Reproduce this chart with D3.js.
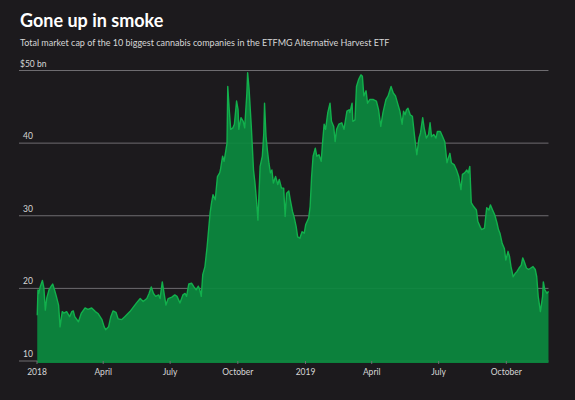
<!DOCTYPE html>
<html>
<head>
<meta charset="utf-8">
<script src="https://cdn.jsdelivr.net/npm/d3@7"></script>
<style>
  html, body { margin: 0; padding: 0; background: #1c1a1d; }
  svg { display: block; }
</style>
</head>
<body>
<div id="vis"></div>
<script>
// market cap, $bn
const dates = [
  "2018-01-02","2018-01-03","2018-01-04","2018-01-06","2018-01-09","2018-01-11","2018-01-13","2018-01-15",
  "2018-01-18","2018-01-21","2018-01-23","2018-01-26","2018-01-28","2018-01-31","2018-02-02","2018-02-05",
  "2018-02-07","2018-02-11","2018-02-15","2018-02-18","2018-02-20","2018-02-22","2018-02-27","2018-03-03",
  "2018-03-08","2018-03-12","2018-03-17","2018-03-22","2018-03-26","2018-03-31","2018-04-03","2018-04-05",
  "2018-04-09","2018-04-12","2018-04-15","2018-04-19","2018-04-22","2018-04-27","2018-05-01","2018-05-08",
  "2018-05-17","2018-05-22","2018-05-26","2018-05-31","2018-06-03","2018-06-06","2018-06-09","2018-06-12",
  "2018-06-16","2018-06-18","2018-06-21","2018-06-23","2018-06-26","2018-06-29","2018-07-04","2018-07-08",
  "2018-07-11","2018-07-15","2018-07-19","2018-07-22","2018-07-24","2018-07-27","2018-07-31","2018-08-03",
  "2018-08-06","2018-08-09","2018-08-11","2018-08-13","2018-08-15","2018-08-18","2018-08-21","2018-08-25",
  "2018-08-27","2018-08-29","2018-09-01","2018-09-04","2018-09-07","2018-09-08","2018-09-11","2018-09-13",
  "2018-09-17","2018-09-18","2018-09-20","2018-09-22","2018-09-25","2018-09-27","2018-09-30","2018-10-02",
  "2018-10-03","2018-10-06","2018-10-09","2018-10-11","2018-10-14","2018-10-15","2018-10-17","2018-10-20",
  "2018-10-23","2018-10-25","2018-10-27","2018-10-29","2018-11-01","2018-11-04","2018-11-06","2018-11-07",
  "2018-11-09","2018-11-11","2018-11-13","2018-11-15","2018-11-17","2018-11-19","2018-11-22","2018-11-25",
  "2018-11-27","2018-11-30","2018-12-03","2018-12-05","2018-12-07","2018-12-10","2018-12-12","2018-12-15",
  "2018-12-17","2018-12-20","2018-12-22","2018-12-25","2018-12-28","2018-12-31",
  "2019-01-02","2019-01-06","2019-01-08","2019-01-10","2019-01-12","2019-01-15","2019-01-17","2019-01-20",
  "2019-01-23","2019-01-25","2019-01-27","2019-01-29","2019-02-01","2019-02-04","2019-02-06","2019-02-09",
  "2019-02-11","2019-02-13","2019-02-16","2019-02-20","2019-02-23","2019-02-27","2019-03-02","2019-03-03",
  "2019-03-06","2019-03-07","2019-03-10","2019-03-12","2019-03-15","2019-03-18","2019-03-20","2019-03-22",
  "2019-03-25","2019-03-27","2019-03-30","2019-04-04","2019-04-08","2019-04-11","2019-04-14","2019-04-17",
  "2019-04-21","2019-04-24","2019-04-28","2019-05-01","2019-05-04","2019-05-08","2019-05-10","2019-05-13",
  "2019-05-15","2019-05-17","2019-05-19","2019-05-21","2019-05-24","2019-05-27","2019-05-30","2019-06-02",
  "2019-06-05","2019-06-07","2019-06-10","2019-06-12","2019-06-15","2019-06-18","2019-06-20","2019-06-22",
  "2019-06-25","2019-06-28","2019-06-30","2019-07-04","2019-07-07","2019-07-10","2019-07-13","2019-07-15",
  "2019-07-17","2019-07-19","2019-07-23","2019-07-26","2019-07-29","2019-08-01","2019-08-03","2019-08-06",
  "2019-08-09","2019-08-11","2019-08-13","2019-08-15","2019-08-18","2019-08-22","2019-08-24","2019-08-27",
  "2019-08-29","2019-09-02","2019-09-05","2019-09-08","2019-09-10","2019-09-13","2019-09-16","2019-09-19",
  "2019-09-21","2019-09-23","2019-09-26","2019-09-29","2019-10-01","2019-10-04","2019-10-06","2019-10-08",
  "2019-10-11","2019-10-14","2019-10-16","2019-10-19","2019-10-22","2019-10-24","2019-10-26","2019-10-29",
  "2019-11-01","2019-11-04","2019-11-07","2019-11-10","2019-11-12","2019-11-14","2019-11-17","2019-11-20",
  "2019-11-21","2019-11-23","2019-11-26","2019-11-28"
]

const marketCap = [
  16.3,19.8,19.3,20.2,21.1,20.1,17.0,18.7,
  19.8,20.3,20.6,19.6,18.9,17.7,14.7,16.8,
  16.6,16.8,16.1,16.8,16.9,16.1,15.4,16.6,
  17.3,17.1,17.3,16.8,16.5,15.7,14.7,14.3,
  14.7,16.1,16.9,16.7,15.8,15.7,16.1,16.8,
  18.0,18.6,18.2,18.6,19.3,20.2,19.3,18.9,
  19.1,18.6,20.9,19.6,17.7,18.6,18.8,19.1,
  18.9,18.0,19.1,19.3,18.9,20.6,20.7,20.2,
  19.8,20.3,19.8,18.9,21.9,23.0,25.8,30.4,
  31.8,32.9,32.2,35.4,35.9,36.3,38.2,37.5,
  40.0,47.8,44.6,41.9,42.1,42.6,45.8,44.6,
  41.9,43.5,43.0,42.1,46.9,49.7,47.4,42.3,
  36.3,34.5,32.2,29.4,36.8,38.2,41.4,45.5,
  40.9,38.9,37.2,35.9,36.3,34.5,35.4,34.3,
  35.0,33.8,33.8,29.9,33.1,33.4,32.2,30.6,
  29.9,28.5,27.1,26.9,27.8,27.6,
  28.8,29.7,31.3,35.4,38.2,39.3,38.2,38.4,
  37.5,40.2,42.6,41.9,44.2,45.5,43.0,42.3,
  40.2,41.9,42.6,42.8,41.9,44.4,44.6,44.2,
  45.5,43.0,43.2,47.8,48.8,49.4,49.2,46.5,
  47.2,45.5,46.0,46.0,45.8,44.6,42.3,44.2,
  46.0,46.5,47.8,46.9,46.5,45.1,44.4,42.6,
  44.4,43.9,44.6,44.8,43.9,43.7,40.9,38.4,
  40.7,41.4,43.5,42.1,40.7,41.2,42.8,40.9,
  41.2,40.7,41.6,41.6,40.9,40.2,37.3,38.0,
  38.6,37.3,37.0,36.3,35.4,33.6,35.7,35.9,
  36.3,35.9,36.8,31.8,31.3,30.8,29.2,28.5,
  28.1,28.3,31.1,30.8,31.5,30.8,30.1,29.0,
  28.1,27.6,26.2,25.5,23.9,25.1,24.4,23.0,
  21.6,22.1,22.3,22.8,23.2,24.2,23.7,22.8,
  22.6,22.8,23.0,22.6,21.6,18.9,16.8,18.9,
  20.9,19.8,19.3,19.6
]

const yTicks = [10, 20, 30, 40, 50]
const xTickDates = ["2018-01-01","2018-04-01","2018-07-01","2018-10-01","2019-01-01","2019-04-01","2019-07-01","2019-10-01"]
const xTickLabels = ["2018","April","July","October","2019","April","July","October"]

const width = 575
const height = 400
const margin = { top: 70, right: 27, bottom: 39, left: 19 }

const parse = d3.timeParse("%Y-%m-%d")
const data = dates.map((d, i) => ({ date: parse(d), value: marketCap[i] }))

const svg = d3.select("#vis").append("svg")
  .attr("width", width)
  .attr("height", height)
  .attr("font-family", "Lato, 'Open Sans', sans-serif")

svg.append("rect").attr("width", width).attr("height", height).attr("fill", "#1c1a1d")

const x = d3.scaleTime()
  .domain([parse("2018-01-01"), parse("2019-01-01")])
  .range([36.5, 305])

const y = d3.scaleLinear()
  .domain([10, 50])
  .range([height - margin.bottom, margin.top + 0.5])

const gridRight = x(data[data.length - 1].date)

// title + subtitle
svg.append("text")
  .attr("x", 20).attr("y", 27)
  .attr("fill", "#ffffff")
  .attr("font-size", 18)
  .attr("font-weight", 700)
  .text("Gone up in smoke")

svg.append("text")
  .attr("x", 20).attr("y", 46)
  .attr("fill", "#d6d6d6")
  .attr("font-size", 9)
  .text("Total market cap of the 10 biggest cannabis companies in the ETFMG Alternative Harvest ETF")

// gridlines
svg.append("g")
  .selectAll("line")
  .data(yTicks)
  .join("line")
  .attr("x1", margin.left)
  .attr("x2", gridRight)
  .attr("y1", d => y(d))
  .attr("y2", d => y(d))
  .attr("stroke", "#6e6c70")
  .attr("stroke-width", 1)

// area
const area = d3.area()
  .x(d => x(d.date))
  .y0(y(10) + 2)
  .y1(d => y(d.value))

svg.append("path")
  .datum(data)
  .attr("fill", "#0b8a3f")
  .attr("fill-opacity", 0.92)
  .attr("d", area)

const line = d3.line()
  .x(d => x(d.date))
  .y(d => y(d.value))

svg.append("path")
  .datum(data)
  .attr("fill", "none")
  .attr("stroke", "#12b04c")
  .attr("stroke-width", 1.4)
  .attr("stroke-linejoin", "round")
  .attr("d", line)

// y labels
svg.append("g")
  .selectAll("text")
  .data(yTicks)
  .join("text")
  .attr("x", d => d === 50 ? 20 : 23)
  .attr("y", d => y(d) - 4)
  .attr("fill", "#d6d6d6")
  .attr("font-size", 8.5)
  .text(d => d === 50 ? "$50 bn" : d)

// x axis
const xAxis = d3.axisBottom(x)
  .tickValues(xTickDates.map(parse))
  .tickSize(3)
  .tickFormat((d, i) => xTickLabels[i])

svg.append("g")
  .attr("transform", `translate(0,${y(10)})`)
  .call(xAxis)
  .call(g => g.select(".domain").remove())
  .call(g => g.selectAll(".tick line").attr("stroke", "#6e6c70"))
  .call(g => g.selectAll(".tick text")
    .attr("fill", "#d6d6d6")
    .attr("font-size", 8.5)
    .attr("font-family", "Lato, 'Open Sans', sans-serif")
    .attr("dy", "0.9em"))
</script>
</body>
</html>
